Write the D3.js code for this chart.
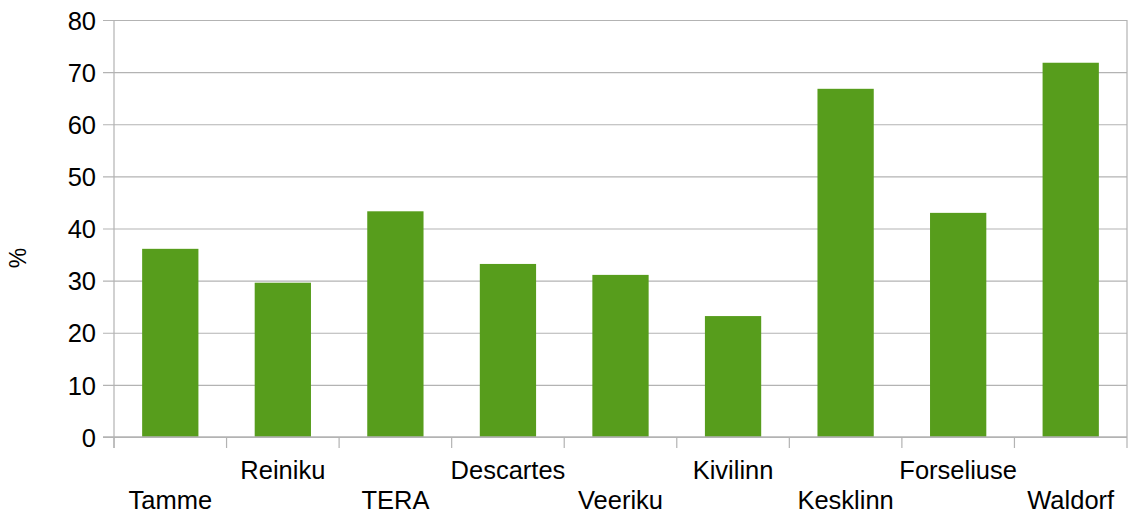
<!DOCTYPE html>
<html>
<head>
<meta charset="utf-8">
<script src="https://cdn.jsdelivr.net/npm/d3@7"></script>
<style>
  html, body { margin: 0; padding: 0; background: #fff; }
  svg { display: block; }
  text { font-family: "Liberation Sans", Arial, sans-serif; fill: #000; }
</style>
</head>
<body>
<svg id="chart" width="1129" height="513"></svg>
<script>
const categories = ["Tamme", "Reiniku", "TERA", "Descartes", "Veeriku", "Kivilinn", "Kesklinn", "Forseliuse", "Waldorf"];
const values = [36.1, 29.6, 43.3, 33.2, 31.1, 23.2, 66.8, 43.0, 71.8];
const yTicks = [0, 10, 20, 30, 40, 50, 60, 70, 80];
const yLabel = "%";

(function () {
const svg = d3.select("#chart");
const mLeft = 114, mRight = 1127, mTop = 20, mBottom = 437;
const gridColor = "#b3b3b3";
const barColor = "#579d1c";
const fs = 25.5;

const x = d3.scaleBand().domain(categories).range([mLeft, mRight]).paddingInner(0.5).paddingOuter(0.25);
const y = d3.scaleLinear().domain([0, 80]).range([mBottom, mTop]);

// gridlines + y ticks
const yAxis = d3.axisLeft(y).tickValues(yTicks).tickSize(mRight - mLeft + 11).tickPadding(8).tickSizeOuter(0);
const gy = svg.append("g").attr("transform", `translate(${mRight},0)`).call(yAxis);
gy.select(".domain").remove();
gy.selectAll(".tick line").attr("stroke", gridColor).attr("stroke-width", 1.2);
gy.selectAll(".tick text").attr("font-size", fs).attr("font-family", "Liberation Sans, Arial, sans-serif")
  .attr("x", -(mRight - mLeft + 11) - 7).attr("dy", "0.36em");

// left axis line
svg.append("line").attr("x1", mLeft).attr("x2", mLeft).attr("y1", mTop).attr("y2", mBottom + 11)
  .attr("stroke", gridColor).attr("stroke-width", 1.2);

// bars
svg.append("g").selectAll("rect").data(values).join("rect")
  .attr("x", (d, i) => x(categories[i]))
  .attr("width", x.bandwidth())
  .attr("y", d => y(d))
  .attr("height", d => y(0) - y(d))
  .attr("fill", barColor);

// x axis baseline
svg.append("line").attr("x1", mLeft - 11).attr("x2", mRight).attr("y1", mBottom).attr("y2", mBottom)
  .attr("stroke", gridColor).attr("stroke-width", 1.5);

// x category boundary ticks
const step = (mRight - mLeft) / categories.length;
const boundaries = d3.range(categories.length + 1);
svg.append("g").selectAll("line").data(boundaries).join("line")
  .attr("x1", i => mLeft + i * step).attr("x2", i => mLeft + i * step)
  .attr("y1", i => i === categories.length ? mTop : mBottom)
  .attr("y2", mBottom + 11)
  .attr("stroke", gridColor).attr("stroke-width", 1.2);

// x labels staggered
svg.append("g").selectAll("text").data(categories).join("text")
  .attr("x", d => x(d) + x.bandwidth() / 2)
  .attr("y", (d, i) => i % 2 === 0 ? 509 : 479)
  .attr("text-anchor", "middle")
  .attr("font-size", fs)
  .text(d => d);

// y label
svg.append("text")
  .attr("transform", "translate(26,258) rotate(-90)")
  .attr("text-anchor", "middle")
  .attr("font-size", 23)
  .text(yLabel);
})();
</script>
</body>
</html>
